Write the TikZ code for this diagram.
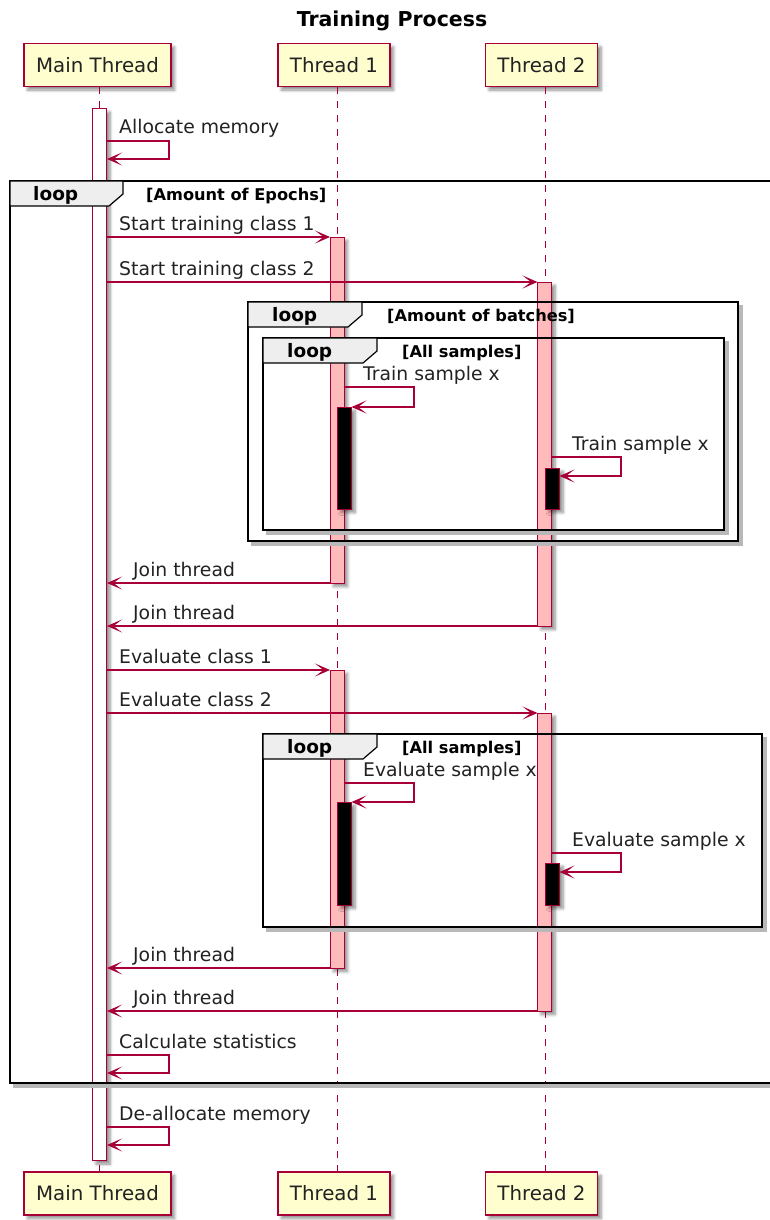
\documentclass[tikz,border=0pt]{standalone}
\usepackage{fontspec}
\setmainfont{DejaVu Sans}
\usetikzlibrary{arrows.meta,shadows.blur}
\definecolor{umlred}{HTML}{A80036}
\definecolor{partfill}{HTML}{FEFECE}
\definecolor{actfill}{HTML}{FFBBBB}
\definecolor{tabfill}{HTML}{EEEEEE}
\definecolor{txtgray}{HTML}{222222}
\tikzset{
  softshadow/.style={blur shadow={shadow xshift=3.5pt, shadow yshift=-3.5pt, shadow blur steps=6, shadow blur radius=3pt, shadow opacity=45}},
  participant/.style={draw=umlred, line width=1.4pt, fill=partfill, minimum height=43pt, inner sep=0pt,
    font=\fontsize{19.8}{22}\selectfont, text=txtgray, softshadow},
  lifeline/.style={draw=umlred, line width=0.9pt, dash pattern=on 7pt off 7pt},
  actbar/.style={draw=umlred, line width=1pt, fill=actfill, minimum width=14pt, inner sep=0pt, outer sep=0pt, anchor=north west, softshadow},
  mainbar/.style={actbar, fill=white},
  busybar/.style={actbar, fill=black},
  msg/.style={draw=umlred, line width=1.2pt, -{Stealth[length=15pt,width=13pt,inset=8.5pt]}},
  msglabel/.style={anchor=base west, inner sep=0pt, font=\fontsize{18.8}{21}\selectfont, text=txtgray},
  frameline/.style={draw=black, line width=2.4pt},
  frameshade/.style={draw=black!28, line width=3.5pt},
  looptab/.style={draw=black, line width=1.2pt, fill=tabfill},
  looptxt/.style={anchor=base west, inner sep=0pt, font=\bfseries\fontsize{18.5}{21}\selectfont},
  condtxt/.style={anchor=base west, inner sep=0pt, font=\bfseries\fontsize{16.2}{19}\selectfont},
}
\begin{document}
\begin{tikzpicture}[x=1pt, y=-1pt]
\useasboundingbox (0,0) rectangle (770,1220);
\clip (0,0) rectangle (770,1220);

% title
\node[anchor=base, inner sep=0pt, font=\bfseries\fontsize{20.5}{24}\selectfont] (title) at (392,27) {Training Process};

% participants, top and bottom
\node[participant, minimum width=147pt] (mainTop) at (97.5,65) {Main Thread};
\node[participant, minimum width=112pt] (t1Top) at (334,65) {Thread 1};
\node[participant, minimum width=112pt] (t2Top) at (541.5,65) {Thread 2};
\node[participant, minimum width=147pt] (mainBot) at (97.5,1193.5) {Main Thread};
\node[participant, minimum width=112pt] (t1Bot) at (334,1193.5) {Thread 1};
\node[participant, minimum width=112pt] (t2Bot) at (541.5,1193.5) {Thread 2};

% lifelines
\draw[lifeline] ([xshift=1.5pt]mainTop.south) -- ([xshift=1.5pt]mainBot.north);
\draw[lifeline] ([xshift=3pt]t1Top.south) -- ([xshift=3pt]t1Bot.north);
\draw[lifeline] ([xshift=3.5pt]t2Top.south) -- ([xshift=3.5pt]t2Bot.north);

% activation bars
\node[mainbar, minimum height=1052pt] (ma) at (92.5,108.5) {};
\node[actbar, minimum height=346pt] (t1a) at (330,237) {};
\node[actbar, minimum height=344pt] (t2a) at (537.5,282) {};
\node[actbar, minimum height=298pt] (t1b) at (330,670) {};
\node[actbar, minimum height=298pt] (t2b) at (537.5,713) {};
\node[busybar, minimum height=102pt] (t1x) at (337.5,407) {};
\node[busybar, minimum height=41pt] (t2x) at (545.5,468) {};
\node[busybar, minimum height=103pt] (t1y) at (337.5,802) {};
\node[busybar, minimum height=42pt] (t2y) at (545.5,863) {};

% loop frames: shadows
\draw[frameshade] (13,1086) -- (775,1086);
\draw[frameshade] (741,305) -- (741,544) -- (251,544);
\draw[frameshade] (727,341) -- (727,533) -- (266,533);
\draw[frameshade] (765,737) -- (765,930) -- (266,930);

% loop frames
\draw[frameline] (10,181) rectangle (790,1083);
\draw[looptab] (10,181) -- (123,181) -- (123,194) -- (109,206) -- (10,206) -- cycle;
\node[looptxt] (loopA) at (33,200) {loop};
\node[condtxt] (condA) at (146,200) {[Amount of Epochs]};

\draw[frameline] (248,302) rectangle (738,541);
\draw[looptab] (248,302) -- (362,302) -- (362,315) -- (348,327) -- (248,327) -- cycle;
\node[looptxt] (loopB) at (272,321) {loop};
\node[condtxt] (condB) at (387,321) {[Amount of batches]};

\draw[frameline] (263,338) rectangle (724,530);
\draw[looptab] (263,338) -- (377,338) -- (377,351) -- (363,363) -- (263,363) -- cycle;
\node[looptxt] (loopC) at (287,357) {loop};
\node[condtxt] (condC) at (402,357) {[All samples]};

\draw[frameline] (263,734) rectangle (762,927);
\draw[looptab] (263,734) -- (377,734) -- (377,747) -- (363,759) -- (263,759) -- cycle;
\node[looptxt] (loopD) at (287,753) {loop};
\node[condtxt] (condD) at (402,753) {[All samples]};

% message end points
\coordinate (allocS) at (107,141);   \coordinate (allocE) at (107,159);
\coordinate (start1S) at (107,237);
\coordinate (start2S) at (107,282);
\coordinate (train1S) at (344,387);  \coordinate (train1E) at (t1x.north east);
\coordinate (train2S) at (552,457);  \coordinate (train2E) at (559.5,476);
\coordinate (join1E) at (107,583);
\coordinate (join2E) at (107,626);
\coordinate (eval1S) at (107,670);
\coordinate (eval2S) at (107,713);
\coordinate (evs1S) at (344,783);    \coordinate (evs1E) at (t1y.north east);
\coordinate (evs2S) at (552,853);    \coordinate (evs2E) at (559.5,872);
\coordinate (join3E) at (107,968);
\coordinate (join4E) at (107,1011);
\coordinate (statS) at (107,1055);   \coordinate (statE) at (107,1073);
\coordinate (freeS) at (107,1127);   \coordinate (freeE) at (107,1145);

% messages
\draw[msg] (allocS) -- ++(62,0) -- ++(0,18) -- (allocE);
\node[msglabel] (lAlloc) at (119,134) {Allocate memory};

\draw[msg] (start1S) -- (t1a.north west);
\node[msglabel] (lStart1) at (119,230) {Start training class 1};
\draw[msg] (start2S) -- (t2a.north west);
\node[msglabel] (lStart2) at (119,275) {Start training class 2};

\draw[msg] (train1S) -- ++(70,0) -- ++(0,20) -- (train1E);
\node[msglabel] (lTrain1) at (363,380) {Train sample x};
\draw[msg] (train2S) -- ++(69,0) -- ++(0,19) -- (train2E);
\node[msglabel] (lTrain2) at (572,450) {Train sample x};

\draw[msg] (t1a.south west) -- (join1E);
\node[msglabel] (lJoin1) at (133,576) {Join thread};
\draw[msg] (t2a.south west) -- (join2E);
\node[msglabel] (lJoin2) at (133,619) {Join thread};

\draw[msg] (eval1S) -- (t1b.north west);
\node[msglabel] (lEval1) at (119,663) {Evaluate class 1};
\draw[msg] (eval2S) -- (t2b.north west);
\node[msglabel] (lEval2) at (119,706) {Evaluate class 2};

\draw[msg] (evs1S) -- ++(70,0) -- ++(0,19) -- (evs1E);
\node[msglabel] (lEvs1) at (363,776) {Evaluate sample x};
\draw[msg] (evs2S) -- ++(69,0) -- ++(0,19) -- (evs2E);
\node[msglabel] (lEvs2) at (572,846) {Evaluate sample x};

\draw[msg] (t1b.south west) -- (join3E);
\node[msglabel] (lJoin3) at (133,961) {Join thread};
\draw[msg] (t2b.south west) -- (join4E);
\node[msglabel] (lJoin4) at (133,1004) {Join thread};

\draw[msg] (statS) -- ++(62,0) -- ++(0,18) -- (statE);
\node[msglabel] (lStat) at (119,1048) {Calculate statistics};

\draw[msg] (freeS) -- ++(62,0) -- ++(0,18) -- (freeE);
\node[msglabel] (lFree) at (119,1120) {De-allocate memory};
\end{tikzpicture}
\end{document}
